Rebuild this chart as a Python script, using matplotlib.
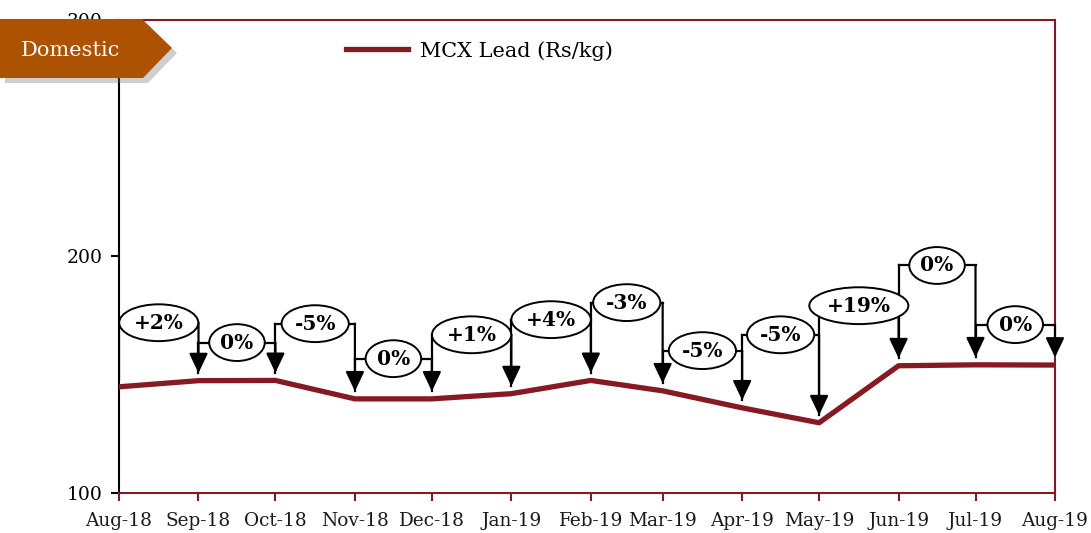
import numpy as np
import pandas as pd
import matplotlib
matplotlib.use('Agg')
import matplotlib.pyplot as plt
import matplotlib.dates as mdates
from matplotlib.patches import Polygon

# monthly MCX lead price (Rs/kg)
months = ['2018-08', '2018-09', '2018-10', '2018-11', '2018-12', '2019-01', '2019-02',
          '2019-03', '2019-04', '2019-05', '2019-06', '2019-07', '2019-08']
lead_price = [144.9, 147.5, 147.6, 139.8, 139.8, 142.0, 147.6, 143.2, 136.0, 129.7, 153.8, 154.2, 154.1]

# change labels between consecutive months and the level of each bracket
change_labels = ['+2%', '0%', '-5%', '0%', '+1%', '+4%', '-3%', '-5%', '-5%', '+19%', '0%', '0%']
bracket_level = [172.0, 163.6, 171.6, 156.8, 166.9, 173.3, 180.5, 160.2, 166.9, 179.2, 196.2, 171.2]

dates = pd.to_datetime(months)
dark_red = '#861a22'

plt.rcParams['font.family'] = ['DejaVu Serif']

fig = plt.figure(figsize=(10.91, 5.33), dpi=100)
ax = fig.add_axes([119/1091, 1 - 493/533, (1055-119)/1091, (493-20)/533])

ax.plot(dates, lead_price, color=dark_red, lw=3.8, solid_joinstyle='round', zorder=3,
        label='MCX Lead (Rs/kg)')

# brackets with down arrows showing month-on-month change
for i, lab in enumerate(change_labels):
    x0, x1 = dates[i], dates[i + 1]
    h = bracket_level[i]
    tip = lead_price[i + 1] + 3.2
    start_low = lead_price[i] + 3.2
    ax.plot([x0, x0], [start_low, h], color='black', lw=1.6, zorder=4)
    ax.plot([x0, x1], [h, h], color='black', lw=1.6, zorder=4)
    ax.annotate('', xy=(x1, tip), xytext=(x1, h),
                arrowprops=dict(arrowstyle='-|>,head_width=0.38,head_length=0.8', color='black',
                                lw=1.6, shrinkA=0, shrinkB=0, mutation_scale=15), zorder=5)
    xm = x0 + (x1 - x0) / 2
    ax.text(xm, h, lab, ha='center', va='center', fontsize=14.5, fontweight='bold', zorder=6,
            bbox=dict(boxstyle='ellipse,pad=0.15', fc='white', ec='black', lw=1.4))

ax.set_ylim(100, 300)
ax.set_yticks([100, 200, 300])
ax.set_xlim(dates[0], dates[-1])
ax.set_xticks(dates)
ax.xaxis.set_major_formatter(mdates.DateFormatter('%b-%y'))
ax.tick_params(axis='x', colors=dark_red, length=6, width=1.5, labelsize=13.3,
               labelcolor='#1a1a1a', pad=8)
ax.tick_params(axis='y', length=6, width=1.5, labelsize=13.5, pad=6)

for side in ['top', 'right', 'bottom']:
    ax.spines[side].set_color(dark_red)
    ax.spines[side].set_linewidth(1.5)
ax.spines['left'].set_color('black')
ax.spines['left'].set_linewidth(1.5)

ax.legend(loc='upper left', bbox_to_anchor=(0.222, 0.995), frameon=False, fontsize=15,
          handlelength=3.0, handletextpad=0.55)

# "Domestic" tag in the top left corner
W, H = 1091, 533
tag = [(0, 19), (142, 19), (172, 48), (143, 78), (0, 78)]
shadow = [(x + 5, y + 5) for x, y in tag]
fig.patches.append(Polygon([(x / W, 1 - y / H) for x, y in shadow], closed=True,
                           transform=fig.transFigure, fc='#777777', alpha=0.35, ec='none', zorder=9))
fig.patches.append(Polygon([(x / W, 1 - y / H) for x, y in tag], closed=True,
                           transform=fig.transFigure, fc='#ad5200', ec='none', zorder=10))
fig.text(70 / W, 1 - 50 / H, 'Domestic', color='white', fontsize=15, ha='center', va='center',
         zorder=11)

fig.savefig('out.png', dpi=100)
